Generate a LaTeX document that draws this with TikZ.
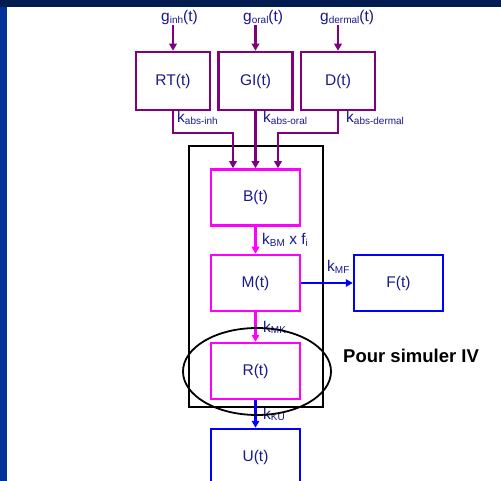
\documentclass[tikz,border=0pt]{standalone}
\usepackage{fontspec}
\setmainfont{Liberation Sans}
\usetikzlibrary{arrows.meta}
\definecolor{cText}{RGB}{25,25,140}
\definecolor{cIn}  {RGB}{128,0,128}
\definecolor{cCore}{RGB}{255,0,255}
\definecolor{cOut} {RGB}{0,0,255}
\definecolor{cBar} {RGB}{0,51,153}
\definecolor{cTop} {RGB}{0,28,80}
\newcommand{\lsub}[1]{\raisebox{-1.5pt}{\fontsize{10}{10}\selectfont #1}}

\begin{document}
\begin{tikzpicture}[x=1pt,y=-1pt,
  >={Triangle[length=7pt,width=7.5pt]},
  box/.style={draw,line width=2.5pt,minimum width=74pt,minimum height=58pt,
              inner sep=0pt,text=cText,font=\fontsize{15.5}{17}\selectfont},
  big/.style={box,minimum width=89pt,minimum height=56pt},
  arr/.style={->,line width=2.5pt},
  lbl/.style={anchor=base west,inner sep=0pt,text=cText,font=\fontsize{15.5}{17}\selectfont},
]

% ------------------------------------------------------------------ slide frame
\clip (0,0) rectangle (501,481);
\fill[white] (0,0) rectangle (501,481);
\fill[cTop]  (0,0) rectangle (501,7);
\fill[cBar]  (0,7) rectangle (7,481);

% ------------------------------------------------------------ exposure routes
\node[lbl] (ginh)  at (161,22) {g\lsub{inh}(t)};
\node[lbl] (goral) at (243,22) {g\lsub{oral}(t)};
\node[lbl] (gderm) at (320,22) {g\lsub{dermal}(t)};

\node[box,draw=cIn] (rt) at (173,81)   {RT(t)};
\node[box,draw=cIn] (gi) at (255.5,81) {GI(t)};
\node[box,draw=cIn] (d)  at (338,81)   {D(t)};

% ------------------------------------------------------------- body container
\draw[line width=2pt] (188.5,146) rectangle (322.5,407);

% --------------------------------------------------------------- main column
\node[big,draw=cCore] (b) at (255.5,197.5) {B(t)};
\node[big,draw=cCore] (m) at (255.5,283)   {M(t)};
\node[big,draw=cCore] (r) at (255.5,371)   {R(t)};
\node[big,draw=cOut]  (u) at (255.5,457)   {U(t)};
\node[big,draw=cOut]  (f) at (398.5,283)   {F(t)};

% ---------------------------------------------------------------- inputs
\draw[arr,cIn] (ginh.south -| rt.north)  -- (rt.north);
\draw[arr,cIn] (goral.south -| gi.north) -- (gi.north);
\draw[arr,cIn] (gderm.south -| d.north)  -- (d.north);

% absorption into blood
\draw[arr,cIn] (rt.south) -- ++(0,22) -| ([xshift=-22.5pt]b.north);
\draw[arr,cIn] (gi.south) -- (b.north);
\draw[arr,cIn] (d.south)  -- ++(0,22) -| ([xshift=22.5pt]b.north);

\node[lbl] at (177,123) {k\lsub{abs-inh}};
\node[lbl] at (263,123) {k\lsub{abs-oral}};
\node[lbl] at (346,123) {k\lsub{abs-dermal}};

% ----------------------------------------------------------------- transfers
\draw[arr,cCore] (b) -- (m);
\draw[arr,cCore] (m) -- (r);
\draw[arr,cOut]  (r) -- (u);
\draw[arr,cOut]  (m) -- (f);

\node[lbl] at (262,245) {k\lsub{BM} x f\lsub{i}};
\node[lbl] at (327,272) {k\lsub{MF}};
\node[lbl] at (263,332) {k\lsub{MK}};
\node[lbl] at (263,419) {k\lsub{KU}};

% --------------------------------------------------------- IV shortcut
\draw[line width=1.8pt] (257,371.5) ellipse [x radius=74pt,y radius=43.5pt];
\node[anchor=base west,inner sep=0pt,font=\fontsize{18.5}{20}\selectfont\bfseries]
     at (343,362) {Pour simuler IV};

\end{tikzpicture}
\end{document}
